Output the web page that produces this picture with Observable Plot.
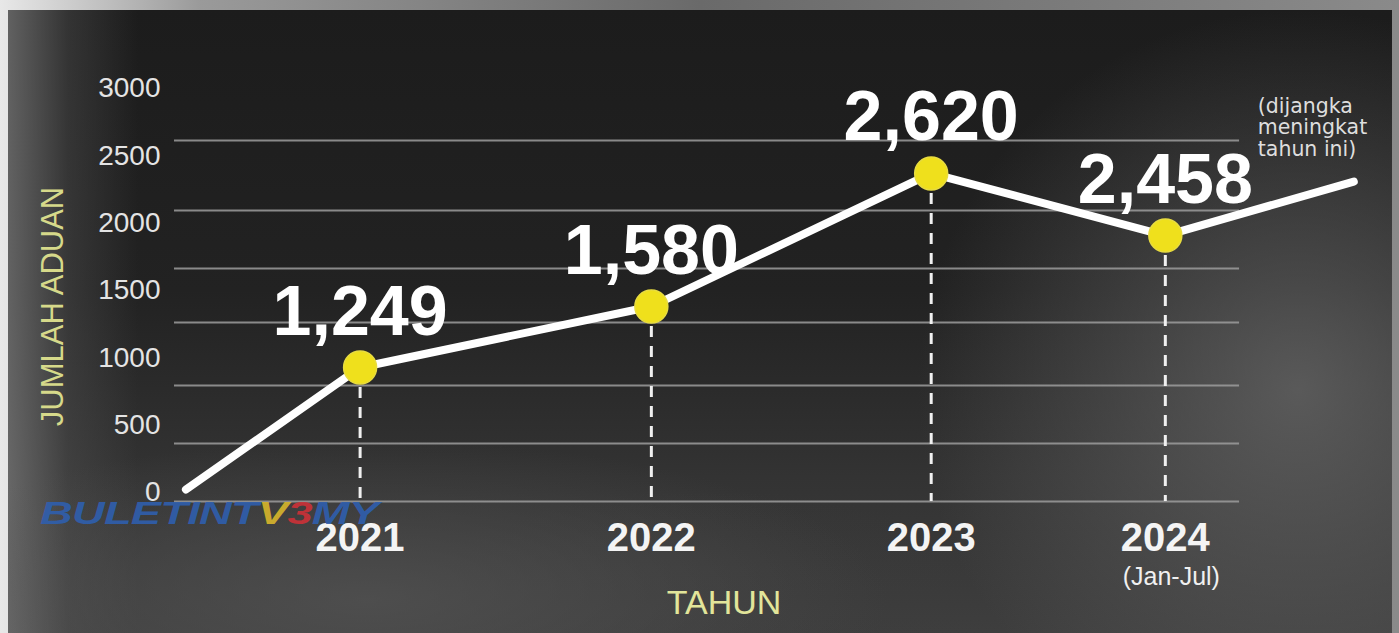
<!DOCTYPE html>
<html>
<head>
<meta charset="utf-8">
<script src="https://cdn.jsdelivr.net/npm/d3@7"></script>
<script src="https://cdn.jsdelivr.net/npm/@observablehq/plot@0.6"></script>
<style>
  html, body { margin: 0; padding: 0; background: #cfcfcf; }
  #wrap { position: relative; width: 1399px; height: 633px; overflow: hidden;
    background: linear-gradient(to right, #e8e8e8 0px, #9a9a9a 200px, #6a6a6a 700px, #8a8a8a 1399px); }
  #panel { position: absolute; left: 8px; top: 10px; width: 1384px; height: 623px;
    background:
      radial-gradient(ellipse 380px 380px at 1290px 380px, rgba(105,105,105,0.75), rgba(105,105,105,0) 100%),
      radial-gradient(ellipse 520px 160px at 360px 590px, rgba(85,85,85,0.7), rgba(85,85,85,0) 100%),
      radial-gradient(ellipse 300px 120px at 700px 600px, rgba(60,60,60,0.5), rgba(60,60,60,0) 100%),
      linear-gradient(to right, rgba(120,120,120,0.75) 0px, rgba(80,80,80,0.45) 60px, rgba(40,40,40,0) 130px),
      linear-gradient(to bottom, #1c1c1c 0%, #222 45%, #333 75%, #3e3e3e 100%);
  }
  #chart { position: absolute; left: 0; top: 0; }
  #wm { position: absolute; left: 40px; top: 498px; font-family: "Liberation Sans", Arial, sans-serif;
    font-style: italic; font-weight: 900; font-size: 31px; line-height: 31px; white-space: nowrap;
    transform: scaleX(1.46); transform-origin: left top; opacity: 0.9; letter-spacing: -0.5px; }
  #wm .b { color: #2f5fae; }
  #wm .y { color: #d8b62c; }
  #wm .r { color: #cc3138; }
</style>
</head>
<body>
<div id="wrap">
  <div id="panel"></div>
  <div id="chart"></div>
  <div id="wm"><span class="b">BULETIN</span><span class="b">T</span><span class="y">V</span><span class="r">3</span><span class="b">MY</span></div>
</div>
<script>
// ---- data ----
const years = ["2021", "2022", "2023", "2024"];
const yearNotes = ["", "", "", "(Jan-Jul)"];
const valueLabels = ["1,249", "1,580", "2,620", "2,458"];
// positions of the points as drawn (x in years, y in the axis' units)
const xAt = [2021, 2022.02, 2023, 2023.82];
const yAt = [995, 1448, 2436, 1975];
// line starts at zero before 2021 and continues up after 2024 (projection)
const startX = 2020.39, startY = 89;
const endX = 2024.48, endY = 2376;
const yTicks = [0, 500, 1000, 1500, 2000, 2500, 3000];
const gridAt = [2681, 2161, 1730, 1329, 861, 431, 0];
const gridFrom = 2020.35, gridTo = 2024.08;
const yTitle = "JUMLAH ADUAN";
const xTitle = "TAHUN";
const forecastNote = "(dijangka\nmeningkat\ntahun ini)";

const points = years.map((yr, i) => ({year: yr, note: yearNotes[i], label: valueLabels[i], x: xAt[i], y: yAt[i]}));
const lineData = [{x: startX, y: startY}, ...points.map(p => ({x: p.x, y: p.y})), {x: endX, y: endY}];

const font = "'Liberation Sans', Arial, sans-serif";

const chart = Plot.plot({
  width: 1399,
  height: 633,
  marginLeft: 174,
  marginRight: 40,
  marginTop: 97,
  marginBottom: 132,
  style: {background: "transparent", fontFamily: font, overflow: "visible"},
  x: {domain: [2020.35, 2024.5], axis: null},
  y: {domain: [0, 3000], axis: null},
  marks: [
    Plot.ruleY(gridAt, {x1: gridFrom, x2: gridTo, stroke: "#9c9c9c", strokeWidth: 2, strokeOpacity: 0.85}),
    Plot.axisY(yTicks, {tickSize: 0, tickPadding: 14, fontSize: 28, color: "#e4e4e4", dy: -9, label: null, tickFormat: d => String(d)}),
    Plot.ruleX(points, {x: "x", y1: "y", y2: 0, stroke: "#f0f0f0", strokeWidth: 3, strokeDasharray: "11,9"}),
    Plot.line(lineData, {x: "x", y: "y", stroke: "white", strokeWidth: 8, strokeLinecap: "round", strokeLinejoin: "round"}),
    Plot.dot(points, {x: "x", y: "y", r: 16.5, fill: "#efe01c", stroke: "#e8dc40", strokeWidth: 1.5}),
    Plot.text(points, {x: "x", y: "y", text: "label", dy: -33, lineAnchor: "bottom", fontSize: 70, fontWeight: "bold", fill: "white"}),
    Plot.text(points, {x: "x", y: 0, text: "year", dy: 49, lineAnchor: "bottom", fontSize: 40, fontWeight: 600, fill: "#f4f4f4"}),
    Plot.text(points, {x: "x", y: 0, text: "note", dx: 6, dy: 83, lineAnchor: "bottom", fontSize: 25, fill: "#f0f0f0"}),
    Plot.text([yTitle], {frameAnchor: "left", textAnchor: "middle", rotate: -90, dx: -121, dy: 7, fontSize: 31, fill: "#d6d98a"}),
    Plot.text([xTitle], {frameAnchor: "bottom", textAnchor: "middle", dx: -43, dy: 112, lineAnchor: "bottom", fontSize: 34, fill: "#e2e59a"}),
    Plot.text([forecastNote], {x: endX, y: endY, dx: -96, dy: -84, textAnchor: "start", lineAnchor: "top", fontSize: 20.5, lineHeight: 1.05, fill: "#dedede", fontFamily: "'DejaVu Sans', sans-serif", letterSpacing: 0.5})
  ]
});
document.getElementById("chart").appendChild(chart);
</script>
</body>
</html>
